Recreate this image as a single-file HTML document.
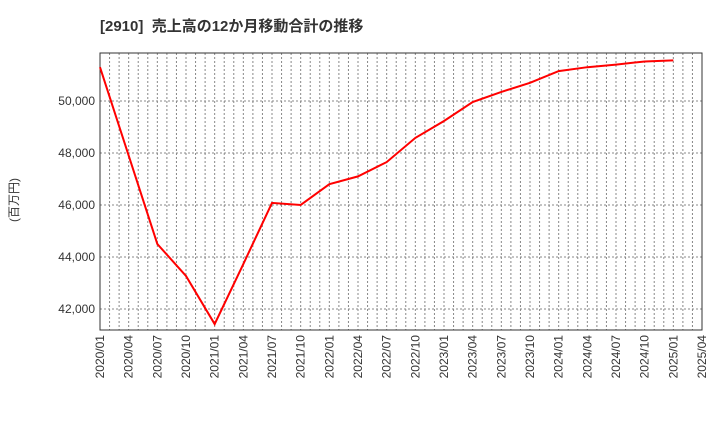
<!DOCTYPE html>
<html><head><meta charset="utf-8"><style>
body{margin:0;background:#fff;font-family:"Liberation Sans","Noto Sans CJK JP",sans-serif}
</style></head><body>
<svg id="c" width="720" height="440" xmlns="http://www.w3.org/2000/svg">
<text x="100" y="31" font-size="15" font-weight="bold" fill="#333" xml:space="preserve" font-family="Liberation Sans,Noto Sans CJK JP,sans-serif">[2910]  売上高の12か月移動合計の推移</text>
<text transform="translate(18,200) rotate(-90)" font-size="12" fill="#333" text-anchor="middle" font-family="Liberation Sans,Noto Sans CJK JP,sans-serif">(百万円)</text>
<g id="grid"></g><g id="axes"></g><g id="series"></g>
</svg>
<script>
const xLabels=["2020/01","2020/04","2020/07","2020/10","2021/01","2021/04","2021/07","2021/10","2022/01","2022/04","2022/07","2022/10","2023/01","2023/04","2023/07","2023/10","2024/01","2024/04","2024/07","2024/10","2025/01","2025/04"];
const values=[51300,47900,44500,43270,41420,43730,46080,46000,46800,47100,47650,48580,49230,49960,50350,50700,51150,51300,51400,51520,51560];
const yTicks=[42000,44000,46000,48000,50000];
const L=100,R=702,T=53,B=330,yMin=41192,yMax=51846;
const ns="http://www.w3.org/2000/svg";
const xs=i=>L+(R-L)*i/((xLabels.length-1)*3);
const ys=v=>B-(v-yMin)/(yMax-yMin)*(B-T);
function mk(t,a,p){const e=document.createElementNS(ns,t);for(const k in a)e.setAttribute(k,a[k]);p.appendChild(e);return e;}
const g=document.getElementById('grid'),ax=document.getElementById('axes'),s=document.getElementById('series');
for(let m=1;m<(xLabels.length-1)*3;m++){const x=xs(m);
const l=mk('line',{x1:x,x2:x,y1:T,y2:B,stroke:'#888','stroke-dasharray':'2,2','stroke-width':1},g);

}
yTicks.forEach(v=>{const y=ys(v);
const l=mk('line',{x1:L,x2:R,y1:y,y2:y,stroke:'#888','stroke-dasharray':'2,2','stroke-width':1},g);


const t=mk('text',{x:L-5,y:y+4,'text-anchor':'end','font-size':12,fill:'#333'},ax);t.textContent=v.toLocaleString('en-US');

});
xLabels.forEach((lb,i)=>{const x=xs(i*3);
const t=mk('text',{transform:`translate(${x+4},${B+5}) rotate(-90)`,'text-anchor':'end','font-size':12,fill:'#333'},ax);t.textContent=lb;

});
const f=mk('rect',{x:L,y:T,width:R-L,height:B-T,fill:'none',stroke:'#333','stroke-width':1},ax);


const p=mk('polyline',{points:values.map((v,i)=>xs(i*3)+','+ys(v)).join(' '),fill:'none',stroke:'#f00','stroke-width':2},s);


</script>
</body></html>
